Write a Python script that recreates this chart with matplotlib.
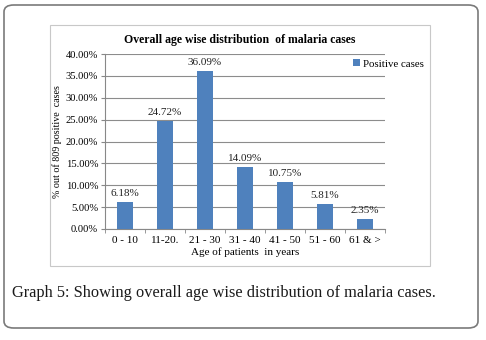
import matplotlib
matplotlib.use("Agg")
import matplotlib.pyplot as plt
from matplotlib.patches import FancyBboxPatch, Rectangle
from matplotlib.ticker import FuncFormatter, FixedLocator
import numpy as np

age_groups = ["0 - 10", "11-20.", "21 - 30", "31 - 40", "41 - 50", "51 - 60", "61 & >"]
percent_cases = [6.18, 24.72, 36.09, 14.09, 10.75, 5.81, 2.35]

W, H = 486, 340
plt.rcParams["font.family"] = ["Liberation Serif", "DejaVu Serif"]

fig = plt.figure(figsize=(W / 100, H / 100), dpi=100)

def fx(px):
    return px / W

def fy(py):
    return 1 - py / H

# outer rounded frame
fig.patches.append(FancyBboxPatch((fx(4), fy(328)), fx(474), 323 / H,
                                  boxstyle="round,pad=0,rounding_size=0.02",
                                  transform=fig.transFigure, fill=False,
                                  edgecolor="#7a7a7a", linewidth=1.2))
# chart area frame
fig.patches.append(Rectangle((fx(50), fy(266)), fx(380), 241 / H,
                             transform=fig.transFigure, fill=False,
                             edgecolor="#c8c8c8", linewidth=0.8))

ax = fig.add_axes([fx(105), fy(229), fx(280), 175 / H])
x = np.arange(len(age_groups))
ax.bar(x, percent_cases, width=0.42, color="#4f81bd", label="Positive cases", zorder=3)

for xi, v in zip(x, percent_cases):
    ax.text(xi, v + 0.9, f"{v:.2f}%", ha="center", va="bottom", fontsize=8, color="#222222")

ax.set_xlim(-0.5, len(age_groups) - 0.5)
ax.set_ylim(0, 40)
ax.set_yticks(np.arange(0, 40.1, 5))
ax.yaxis.set_major_formatter(FuncFormatter(lambda v, p: f"{v:.2f}%"))
ax.set_xticks(x)
ax.set_xticklabels(age_groups)
ax.xaxis.set_minor_locator(FixedLocator(np.arange(-0.5, len(age_groups), 1)))
ax.tick_params(axis="x", which="major", length=0, pad=5, labelsize=8)
ax.tick_params(axis="x", which="minor", length=3, color="#888888")
ax.tick_params(axis="y", length=3, color="#888888", labelsize=7.6, pad=2)
ax.grid(axis="y", color="#8c8c8c", linewidth=0.8, zorder=0)
for side in ["top", "right"]:
    ax.spines[side].set_visible(False)
ax.spines["left"].set_color("#888888")
ax.spines["bottom"].set_color("#888888")

ax.set_xlabel("Age of patients  in years", fontsize=8, labelpad=2)
fig.text(fx(57), fy(142), "% out of 809 positive  cases", rotation=90,
         ha="center", va="center", fontsize=7.2)

fig.text(fx(240), fy(40), "Overall age wise distribution  of malaria cases",
         ha="center", va="center", fontsize=8.5, fontweight="bold")

leg = ax.legend(loc="center left", frameon=False, fontsize=7.8, handlelength=0.6,
                handleheight=0.6, handletextpad=0.3, borderaxespad=0, borderpad=0)
leg.set_bbox_to_anchor((fx(353), fy(64)), transform=fig.transFigure)

fig.text(fx(12), fy(293), "Graph 5: Showing overall age wise distribution of malaria cases.",
         ha="left", va="center", fontsize=11.8, color="#1a1a1a")

fig.savefig("out.png", dpi=100)
